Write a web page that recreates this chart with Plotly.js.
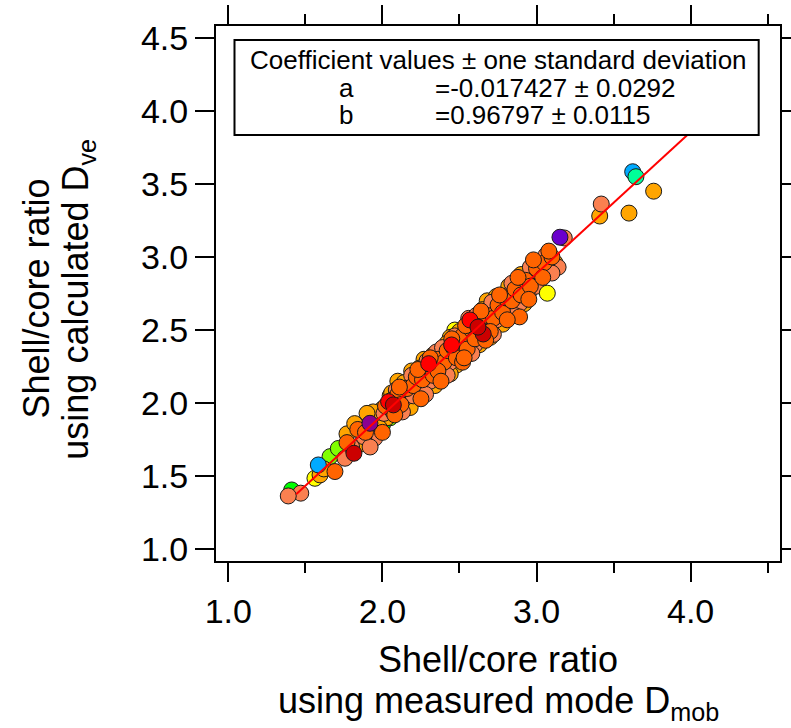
<!DOCTYPE html>
<html>
<head>
<meta charset="utf-8">
<script src="https://cdn.plot.ly/plotly-3.0.1.min.js"></script>
<style>html,body{margin:0;padding:0;background:#fff;}#chart{width:791px;height:728px;}</style>
</head>
<body>
<div id="chart"></div>
<script>
// ---- data ----
const greenX = [1.411, 2.88, 2.00, 2.31];
const greenY = [1.406, 2.69, 1.85, 2.19];
const chartreuseX = [1.66, 1.714, 2.05, 2.85, 3.13, 2.47, 2.33];
const chartreuseY = [1.634, 1.69, 1.90, 2.63, 2.93, 2.36, 2.17];
const yellowX = [2.763, 1.562, 2.63, 1.93, 2.47];
const yellowY = [2.58, 1.486, 2.57, 1.80, 2.50];
const orangeX = [2.00, 2.03, 2.05, 2.08, 2.11, 2.13, 2.15, 2.18, 2.21, 2.23, 2.25, 2.28, 2.30, 2.32, 2.35, 2.37, 2.39, 2.41, 2.43, 2.45, 2.47, 2.49, 2.51, 2.53, 2.56, 2.58, 2.60, 2.62, 2.64, 2.66, 2.69, 2.71, 2.73, 2.76, 2.78, 2.81, 2.83, 2.86, 2.88, 2.91, 2.94, 2.97, 3.00, 3.03, 3.08, 2.85, 2.55, 2.19, 2.10, 1.96, 1.94, 1.98, 1.77, 1.595, 1.62, 1.90, 3.41, 3.60, 3.76, 2.27, 2.44, 2.68, 3.12,
  2.06, 2.14, 2.24, 2.33, 2.42, 2.50, 2.57, 2.65, 2.74, 2.82, 2.90, 2.18, 2.34, 2.48, 2.63, 2.78, 2.92, 1.82, 1.86, 2.70, 2.44];
const orangeY = [1.96, 1.90, 2.05, 2.00, 2.09, 1.98, 2.14, 2.06, 2.17, 2.09, 2.22, 2.14, 2.28, 2.20, 2.31, 2.24, 2.36, 2.27, 2.40, 2.32, 2.44, 2.36, 2.48, 2.40, 2.52, 2.43, 2.57, 2.47, 2.60, 2.49, 2.64, 2.55, 2.68, 2.60, 2.72, 2.64, 2.77, 2.70, 2.80, 2.73, 2.86, 2.83, 2.94, 2.90, 3.00, 2.62, 2.33, 2.22, 2.15, 1.87, 1.94, 1.83, 1.79, 1.509, 1.55, 1.93, 3.28, 3.30, 3.45, 2.30, 2.45, 2.70, 2.96,
  2.07, 2.14, 2.24, 2.33, 2.41, 2.49, 2.56, 2.64, 2.73, 2.80, 2.88, 1.97, 2.12, 2.26, 2.40, 2.54, 2.68, 1.86, 1.72, 2.45, 2.20];
const coralX = [2.01, 2.04, 2.07, 2.09, 2.12, 2.14, 2.17, 2.20, 2.24, 2.27, 2.29, 2.31, 2.34, 2.38, 2.40, 2.44, 2.46, 2.48, 2.52, 2.54, 2.57, 2.59, 2.63, 2.65, 2.67, 2.70, 2.74, 2.77, 2.79, 2.82, 2.85, 2.87, 2.89, 2.92, 2.95, 2.98, 3.02, 3.06, 3.14, 2.60, 1.95, 1.88, 1.757, 1.47, 1.389, 3.42, 3.18, 2.35, 2.56,
  2.09, 2.19, 2.29, 2.39, 2.47, 2.61, 2.71, 2.84, 2.96, 2.13, 2.28, 2.42, 2.58, 2.72, 2.86, 3.00, 1.80, 1.92, 3.10];
const coralY = [1.93, 1.99, 1.94, 2.04, 2.10, 2.03, 2.11, 2.05, 2.17, 2.11, 2.23, 2.15, 2.26, 2.20, 2.33, 2.28, 2.41, 2.34, 2.44, 2.47, 2.41, 2.53, 2.45, 2.57, 2.52, 2.62, 2.57, 2.70, 2.61, 2.74, 2.67, 2.76, 2.68, 2.81, 2.76, 2.90, 2.88, 3.01, 2.93, 2.40, 1.76, 1.77, 1.623, 1.384, 1.365, 3.362, 3.13, 2.35, 2.58,
  2.09, 2.19, 2.29, 2.38, 2.46, 2.60, 2.69, 2.82, 2.93, 1.94, 2.06, 2.19, 2.34, 2.47, 2.60, 2.80, 1.70, 1.70, 2.89];
const orangeRedX = [2.02, 2.06, 2.10, 2.12, 2.16, 2.20, 2.22, 2.26, 2.30, 2.33, 2.36, 2.40, 2.42, 2.46, 2.50, 2.52, 2.55, 2.58, 2.60, 2.62, 2.66, 2.68, 2.72, 2.75, 2.78, 2.80, 2.84, 2.86, 2.90, 2.93, 2.96, 3.00, 3.05, 3.10, 1.77, 1.692, 1.84, 2.70, 2.48, 2.36, 2.89, 2.52, 2.98,
  2.11, 2.23, 2.31, 2.45, 2.54, 2.64, 2.76, 2.88, 3.08, 2.08, 2.25, 2.38, 2.53, 2.67, 2.81, 2.95, 3.04, 1.89, 2.00];
const orangeRedY = [1.98, 2.02, 2.06, 1.99, 2.10, 2.12, 2.18, 2.16, 2.24, 2.19, 2.30, 2.28, 2.36, 2.38, 2.40, 2.46, 2.37, 2.50, 2.44, 2.56, 2.52, 2.60, 2.58, 2.67, 2.62, 2.72, 2.70, 2.78, 2.74, 2.84, 2.80, 2.92, 2.96, 3.00, 1.73, 1.532, 1.82, 2.49, 2.31, 2.22, 2.59, 2.28, 2.98,
  2.11, 2.23, 2.31, 2.44, 2.53, 2.63, 2.74, 2.86, 3.04, 1.92, 2.03, 2.15, 2.31, 2.43, 2.57, 2.71, 2.86, 1.80, 1.80];
const redX = [2.449, 2.568, 2.04, 2.30];
const redY = [2.398, 2.569, 2.01, 2.27];
const darkRedX = [2.654, 2.071, 1.815, 2.62];
const darkRedY = [2.473, 1.988, 1.657, 2.52];
const lateYellowX = [3.07];
const lateYellowY = [2.752];
const blueX = [3.624, 1.584];
const blueY = [3.583, 1.577];
const springX = [3.645];
const springY = [3.549];
const purpleX = [3.152];
const purpleY = [3.135];
const magentaX = [1.919];
const magentaY = [1.862];

// fit: y = a + b*x
const coefA = -0.017427;
const coefB = 0.96797;
const fitX = [1.44, 4.0];
const fitY = fitX.map(v => coefA + coefB * v);

const xTicks = [1, 2, 3, 4];
const xTickText = ['1.0', '2.0', '3.0', '4.0'];
const xMinorTicks = [1.5, 2.5, 3.5, 4.5];
const yTicks = [1.0, 1.5, 2.0, 2.5, 3.0, 3.5, 4.0, 4.5];
const yTickText = ['1.0', '1.5', '2.0', '2.5', '3.0', '3.5', '4.0', '4.5'];

// ---- drawing ----
const FONT = '"Liberation Sans", Arial, Helvetica, sans-serif';
function pts(x, y, color) {
  return {
    x: x, y: y, type: 'scatter', mode: 'markers', hoverinfo: 'skip',
    marker: {size: 16, color: color, line: {color: '#1a1a1a', width: 1}}
  };
}
const traces = [
  pts(greenX, greenY, '#00FF00'),
  pts(chartreuseX, chartreuseY, '#80FF00'),
  pts(yellowX, yellowY, '#FFFF00'),
  pts(orangeX, orangeY, '#FFA500'),
  pts(coralX, coralY, '#FA8050'),
  pts(orangeRedX, orangeRedY, '#FF6400'),
  pts(redX, redY, '#FF0000'),
  pts(darkRedX, darkRedY, '#CC0000'),
  pts(lateYellowX, lateYellowY, '#FFFF00'),
  pts(blueX, blueY, '#00AAFF'),
  pts(springX, springY, '#00FF99'),
  pts(purpleX, purpleY, '#6A00CC'),
  pts(magentaX, magentaY, '#8A0090'),
  {x: fitX, y: fitY, type: 'scatter', mode: 'lines', hoverinfo: 'skip',
   line: {color: '#FF0000', width: 2}}
];

const axisCommon = {
  showgrid: false, zeroline: false,
  showline: true, linecolor: '#000', linewidth: 2, mirror: 'ticks',
  ticks: 'outside', ticklen: 19, tickwidth: 2, tickcolor: '#000',
  tickfont: {family: FONT, size: 34, color: '#000'},
  range: [0.92, 4.58], fixedrange: true
};

const layout = {
  width: 791, height: 728,
  margin: {l: 216, r: 11, t: 26, b: 167},
  paper_bgcolor: '#fff', plot_bgcolor: '#fff',
  showlegend: false,
  font: {family: FONT, color: '#000'},
  xaxis: Object.assign({}, axisCommon, {
    tickmode: 'array', tickvals: xTicks, ticktext: xTickText,
    minor: {tickmode: 'array', tickvals: xMinorTicks, ticks: 'outside', ticklen: 10, tickwidth: 2, tickcolor: '#000'}
  }),
  yaxis: Object.assign({}, axisCommon, {
    tickmode: 'array', tickvals: yTicks, ticktext: yTickText
  }),
  shapes: [{
    type: 'rect', xref: 'paper', yref: 'paper', layer: 'above',
    x0: 0.0328, x1: 0.9622, y0: 0.7963, y1: 0.9738,
    line: {color: '#000', width: 2}, fillcolor: '#fff'
  }],
  annotations: [
    {xref: 'paper', yref: 'paper', x: 0.5, y: 0.9364, xanchor: 'center', yanchor: 'middle', showarrow: false,
     text: 'Coefficient values ± one standard deviation', font: {family: FONT, size: 26}},
    {xref: 'paper', yref: 'paper', x: 0.2305, y: 0.884, xanchor: 'center', yanchor: 'middle', showarrow: false,
     text: 'a', font: {family: FONT, size: 26}},
    {xref: 'paper', yref: 'paper', x: 0.3848, y: 0.884, xanchor: 'left', yanchor: 'middle', showarrow: false,
     text: '=' + coefA + ' ± 0.0292', font: {family: FONT, size: 26}},
    {xref: 'paper', yref: 'paper', x: 0.2305, y: 0.8336, xanchor: 'center', yanchor: 'middle', showarrow: false,
     text: 'b', font: {family: FONT, size: 26}},
    {xref: 'paper', yref: 'paper', x: 0.3848, y: 0.8336, xanchor: 'left', yanchor: 'middle', showarrow: false,
     text: '=' + coefB + ' ± 0.0115', font: {family: FONT, size: 26}},
    // x axis title (two lines)
    {xref: 'paper', yref: 'paper', x: 0.5, y: -0.185, xanchor: 'center', yanchor: 'middle', showarrow: false,
     text: 'Shell/core ratio', font: {family: FONT, size: 36}},
    {xref: 'paper', yref: 'paper', x: 0.5, y: -0.265, xanchor: 'center', yanchor: 'middle', showarrow: false,
     text: 'using measured mode D<sub>mob</sub>', font: {family: FONT, size: 36}},
    // y axis title (two lines)
    {xref: 'paper', yref: 'paper', x: -0.318, y: 0.49, xanchor: 'center', yanchor: 'middle', showarrow: false,
     textangle: -90, text: 'Shell/core ratio', font: {family: FONT, size: 36}},
    {xref: 'paper', yref: 'paper', x: -0.245, y: 0.49, xanchor: 'center', yanchor: 'middle', showarrow: false,
     textangle: -90, text: 'using calculated D<sub>ve</sub>', font: {family: FONT, size: 36}}
  ]
};

Plotly.newPlot('chart', traces, layout, {displayModeBar: false, staticPlot: true});
</script>
</body>
</html>
